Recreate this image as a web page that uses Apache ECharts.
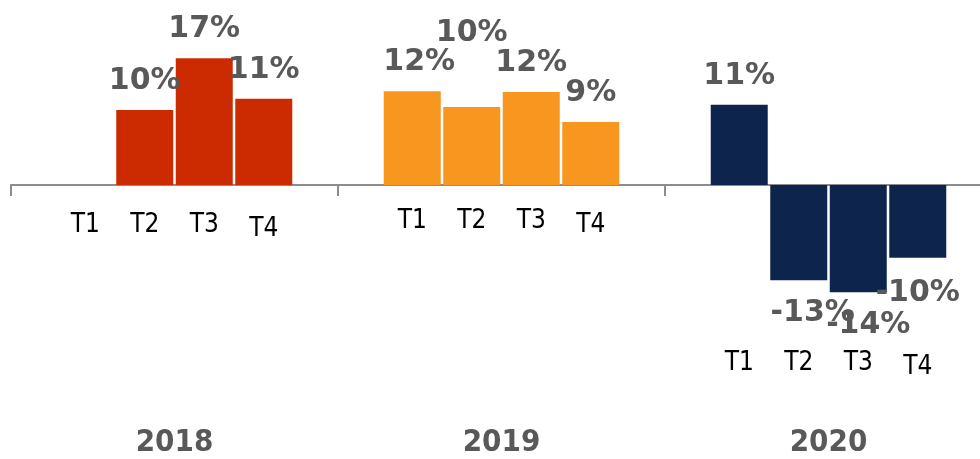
<!DOCTYPE html>
<html>
<head>
<meta charset="utf-8">
<script src="https://cdn.jsdelivr.net/npm/echarts@6/dist/echarts.min.js"></script>
<style>
  html, body { margin: 0; background: #fff; }
  #chart { width: 980px; height: 459px; }
</style>
</head>
<body>
<div id="chart"></div>
<script>
const years = ['2018', '2019', '2020'];
const quarters = ['T1', 'T2', 'T3', 'T4'];
// growth per quarter in % (2018 T1 has no bar)
const growth2018 = [null, 10.0, 16.9, 11.5];
const growth2019 = [12.5, 10.4, 12.4, 8.4];
const growth2020 = [10.7, -12.7, -14.3, -9.7];
// text printed above / below each bar
const labels2018 = ['', '10%', '17%', '11%'];
const labels2019 = ['12%', '10%', '12%', '9%'];
const labels2020 = ['11%', '-13%', '-14%', '-10%'];
const yearColors = ['#CC2B02', '#F7971F', '#0D254D'];

const growth = [growth2018, growth2019, growth2020];
const labels = [labels2018, labels2019, labels2020];

const grey = '#595959';
const axisGrey = '#8C8C8C';
// the original has a few hand-dragged labels
const labelNudge = {
  '1-0': { offset: [7, 0] },
  '1-1': { distance: 59 },
  '2-1': { offset: [14, 0] },
  '2-2': { offset: [10, 0] },
  '2-3': { distance: 20 }
};
// how far under the axis the T1..T4 texts sit, per year
const quarterLabelDrop = [40, 36, 178];

const chart = echarts.init(document.getElementById('chart'));

const series = quarters.map((q, qi) => ({
  name: q,
  type: 'bar',
  barWidth: 57,
  barGap: '4.4%',
  emphasis: { disabled: true },
  label: {
    fontFamily: 'DejaVu Sans',
    fontWeight: 'bold',
    fontSize: 30,
    color: grey
  },
  data: years.map((y, yi) => {
    const v = growth[yi][qi];
    return {
      value: v,
      itemStyle: { color: yearColors[yi] },
      label: Object.assign({
        show: v != null,
        position: v < 0 ? 'bottom' : 'top',
        distance: v < 0 ? 18 : 14,
        formatter: labels[yi][qi]
      }, labelNudge[yi + '-' + qi] || {})
    };
  }),
  markPoint: {
    silent: true,
    symbol: 'rect',
    symbolSize: 1,
    itemStyle: { color: 'rgba(0,0,0,0)' },
    label: {
      show: true,
      position: 'inside',
      formatter: q,
      color: '#000',
      fontFamily: 'DejaVu Sans Condensed',
      fontSize: 26
    },
    data: years.map((y, yi) => ({
      coord: [y, 0],
      label: { offset: [0, quarterLabelDrop[yi] + (qi === 3 ? 4 : 0)] }
    }))
  }
}));

chart.setOption({
  animation: false,
  backgroundColor: '#fff',
  // plot runs a little past the right edge, as in the original
  grid: { left: 11, right: -12, top: 5, bottom: 94, containLabel: false, outerBoundsMode: 'none' },
  xAxis: [
    {
      type: 'category',
      data: years,
      axisLine: { onZero: true, lineStyle: { color: axisGrey, width: 2 } },
      axisTick: { show: true, length: 11, lineStyle: { color: axisGrey, width: 2 } },
      axisLabel: { show: false }
    },
    {
      // year names along the bottom
      type: 'category',
      data: years,
      position: 'bottom',
      axisLine: { show: false, onZero: false },
      axisTick: { show: false },
      axisLabel: {
        margin: 62,
        fontFamily: 'DejaVu Sans Condensed',
        fontWeight: 'bold',
        fontSize: 31,
        color: grey
      }
    }
  ],
  yAxis: {
    type: 'value',
    min: -24,
    max: 24,
    show: false,
    splitLine: { show: false }
  },
  series
});
</script>
</body>
</html>
